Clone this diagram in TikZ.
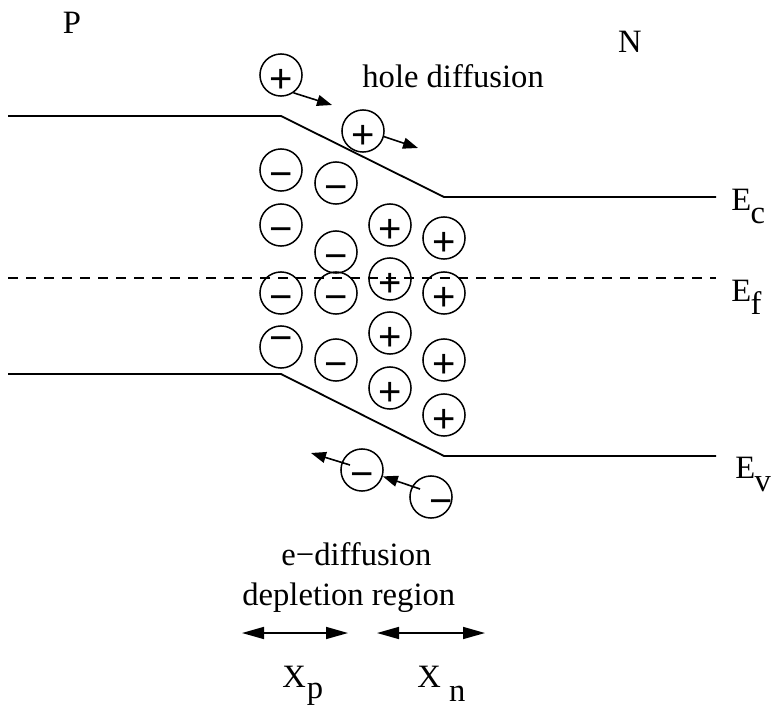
\documentclass[tikz,border=0pt]{standalone}
\usepackage{fontspec}
\setmainfont{Liberation Serif}
\newfontfamily\signfont{Liberation Sans}
\usetikzlibrary{arrows.meta}

\newcommand{\offsign}[3]{\rlap{\hspace*{#1}\raisebox{#2}{#3}}\phantom{#3}}

\tikzset{
  charge/.style={draw, circle, line width=0.75pt, minimum size=19.5pt, inner sep=0pt,
    text height=17.5pt, text depth=0pt, font=\signfont\fontsize{20}{20}\selectfont},
  band/.style={line width=0.9pt},
  lbl/.style={font=\fontsize{16.3}{19}\selectfont, inner sep=0pt},
  drift/.style={-{Triangle[length=7.5pt,width=5.5pt]}, line width=0.8pt},
  widtharrow/.style={{Triangle[length=11pt,width=6pt]}-{Triangle[length=11pt,width=6pt]}, line width=0.8pt},
}

\begin{document}
\begin{tikzpicture}[x=0.5pt, y=-0.5pt]
  \useasboundingbox (0,0) rectangle (771,706);
  % the two sides
  \node[lbl] (pside) at (72,23) {P};
  \node[lbl] (nside) at (630,42) {N};
  % band edges and fermi level
  \draw[band] (8,116) -- (281,116) -- (444,197) -- (716,197);
  \draw[band, dash pattern=on 5pt off 4pt] (8,278) -- (716,278);
  \draw[band] (8,374) -- (281,374) -- (444,456) -- (716,456);
  \node[lbl, anchor=base west] (ec) at (731,210) {E\kern-0.02em\raisebox{-0.4em}{c}};
  \node[lbl, anchor=base west] (ef) at (731,301) {E\kern-0.02em\raisebox{-0.4em}{f}};
  \node[lbl, anchor=base west] (ev) at (735,478) {E\kern-0.02em\raisebox{-0.4em}{v}};
  % fixed charges in the depletion region
  \node[charge] (neg1) at (281,170) {−};
  \node[charge] (neg2) at (336,183) {−};
  \node[charge] (neg3) at (281,225) {−};
  \node[charge] (neg4) at (336,252) {−};
  \node[charge] (neg5) at (281,293) {−};
  \node[charge] (neg6) at (336,293) {−};
  \node[charge] (neg7) at (281,347) {\offsign{0pt}{6.5pt}{−}};
  \node[charge] (neg8) at (336,360) {−};
  \node[charge] (pos1) at (390,225) {+};
  \node[charge] (pos2) at (444,238) {+};
  \node[charge] (pos3) at (390,279) {+};
  \node[charge] (pos4) at (444,293) {+};
  \node[charge] (pos5) at (390,333) {+};
  \node[charge] (pos6) at (444,360) {+};
  \node[charge] (pos7) at (390,388) {+};
  \node[charge] (pos8) at (444,415) {+};
  % holes drifting to N
  \node[charge] (holeA) at (281,75) {+};
  \node[charge] (holeB) at (363,131) {+};
  \coordinate (holeAto) at (332,105);
  \coordinate (holeBto) at (418,148);
  \draw[drift] (holeA.-55) -- (holeAto);
  \draw[drift] (holeB.-15) -- (holeBto);
  \node[lbl, anchor=base west] (holetxt) at (362,88) {hole diffusion};
  % electrons drifting to P
  \node[charge] (elecA) at (362,470) {−};
  \node[charge] (elecB) at (431,497) {\offsign{5pt}{0pt}{−}};
  \coordinate (elecAto) at (311,453);
  \draw[drift] ([shift={(-12,-5)}]elecA.center) -- (elecAto);
  \draw[drift] ([shift={(-11,-8)}]elecB.center) -- (elecA.-17);
  \node[lbl, anchor=base west] (etxt) at (281,565) {e−diffusion};
  \node[lbl, anchor=base west] (deptxt) at (242,605) {depletion region};
  % widths
  \coordinate (xpL) at (242,633);
  \coordinate (xpR) at (348,633);
  \coordinate (xnL) at (377,633);
  \coordinate (xnR) at (485,633);
  \draw[widtharrow] (xpL) -- (xpR);
  \draw[widtharrow] (xnL) -- (xnR);
  \node[lbl, anchor=base west] (xp) at (282,687) {X\kern0.03em\raisebox{-0.34em}{p}};
  \node[lbl, anchor=base west] (xn) at (417,687) {X\kern0.25em\raisebox{-0.45em}{n}};
\end{tikzpicture}
\end{document}
